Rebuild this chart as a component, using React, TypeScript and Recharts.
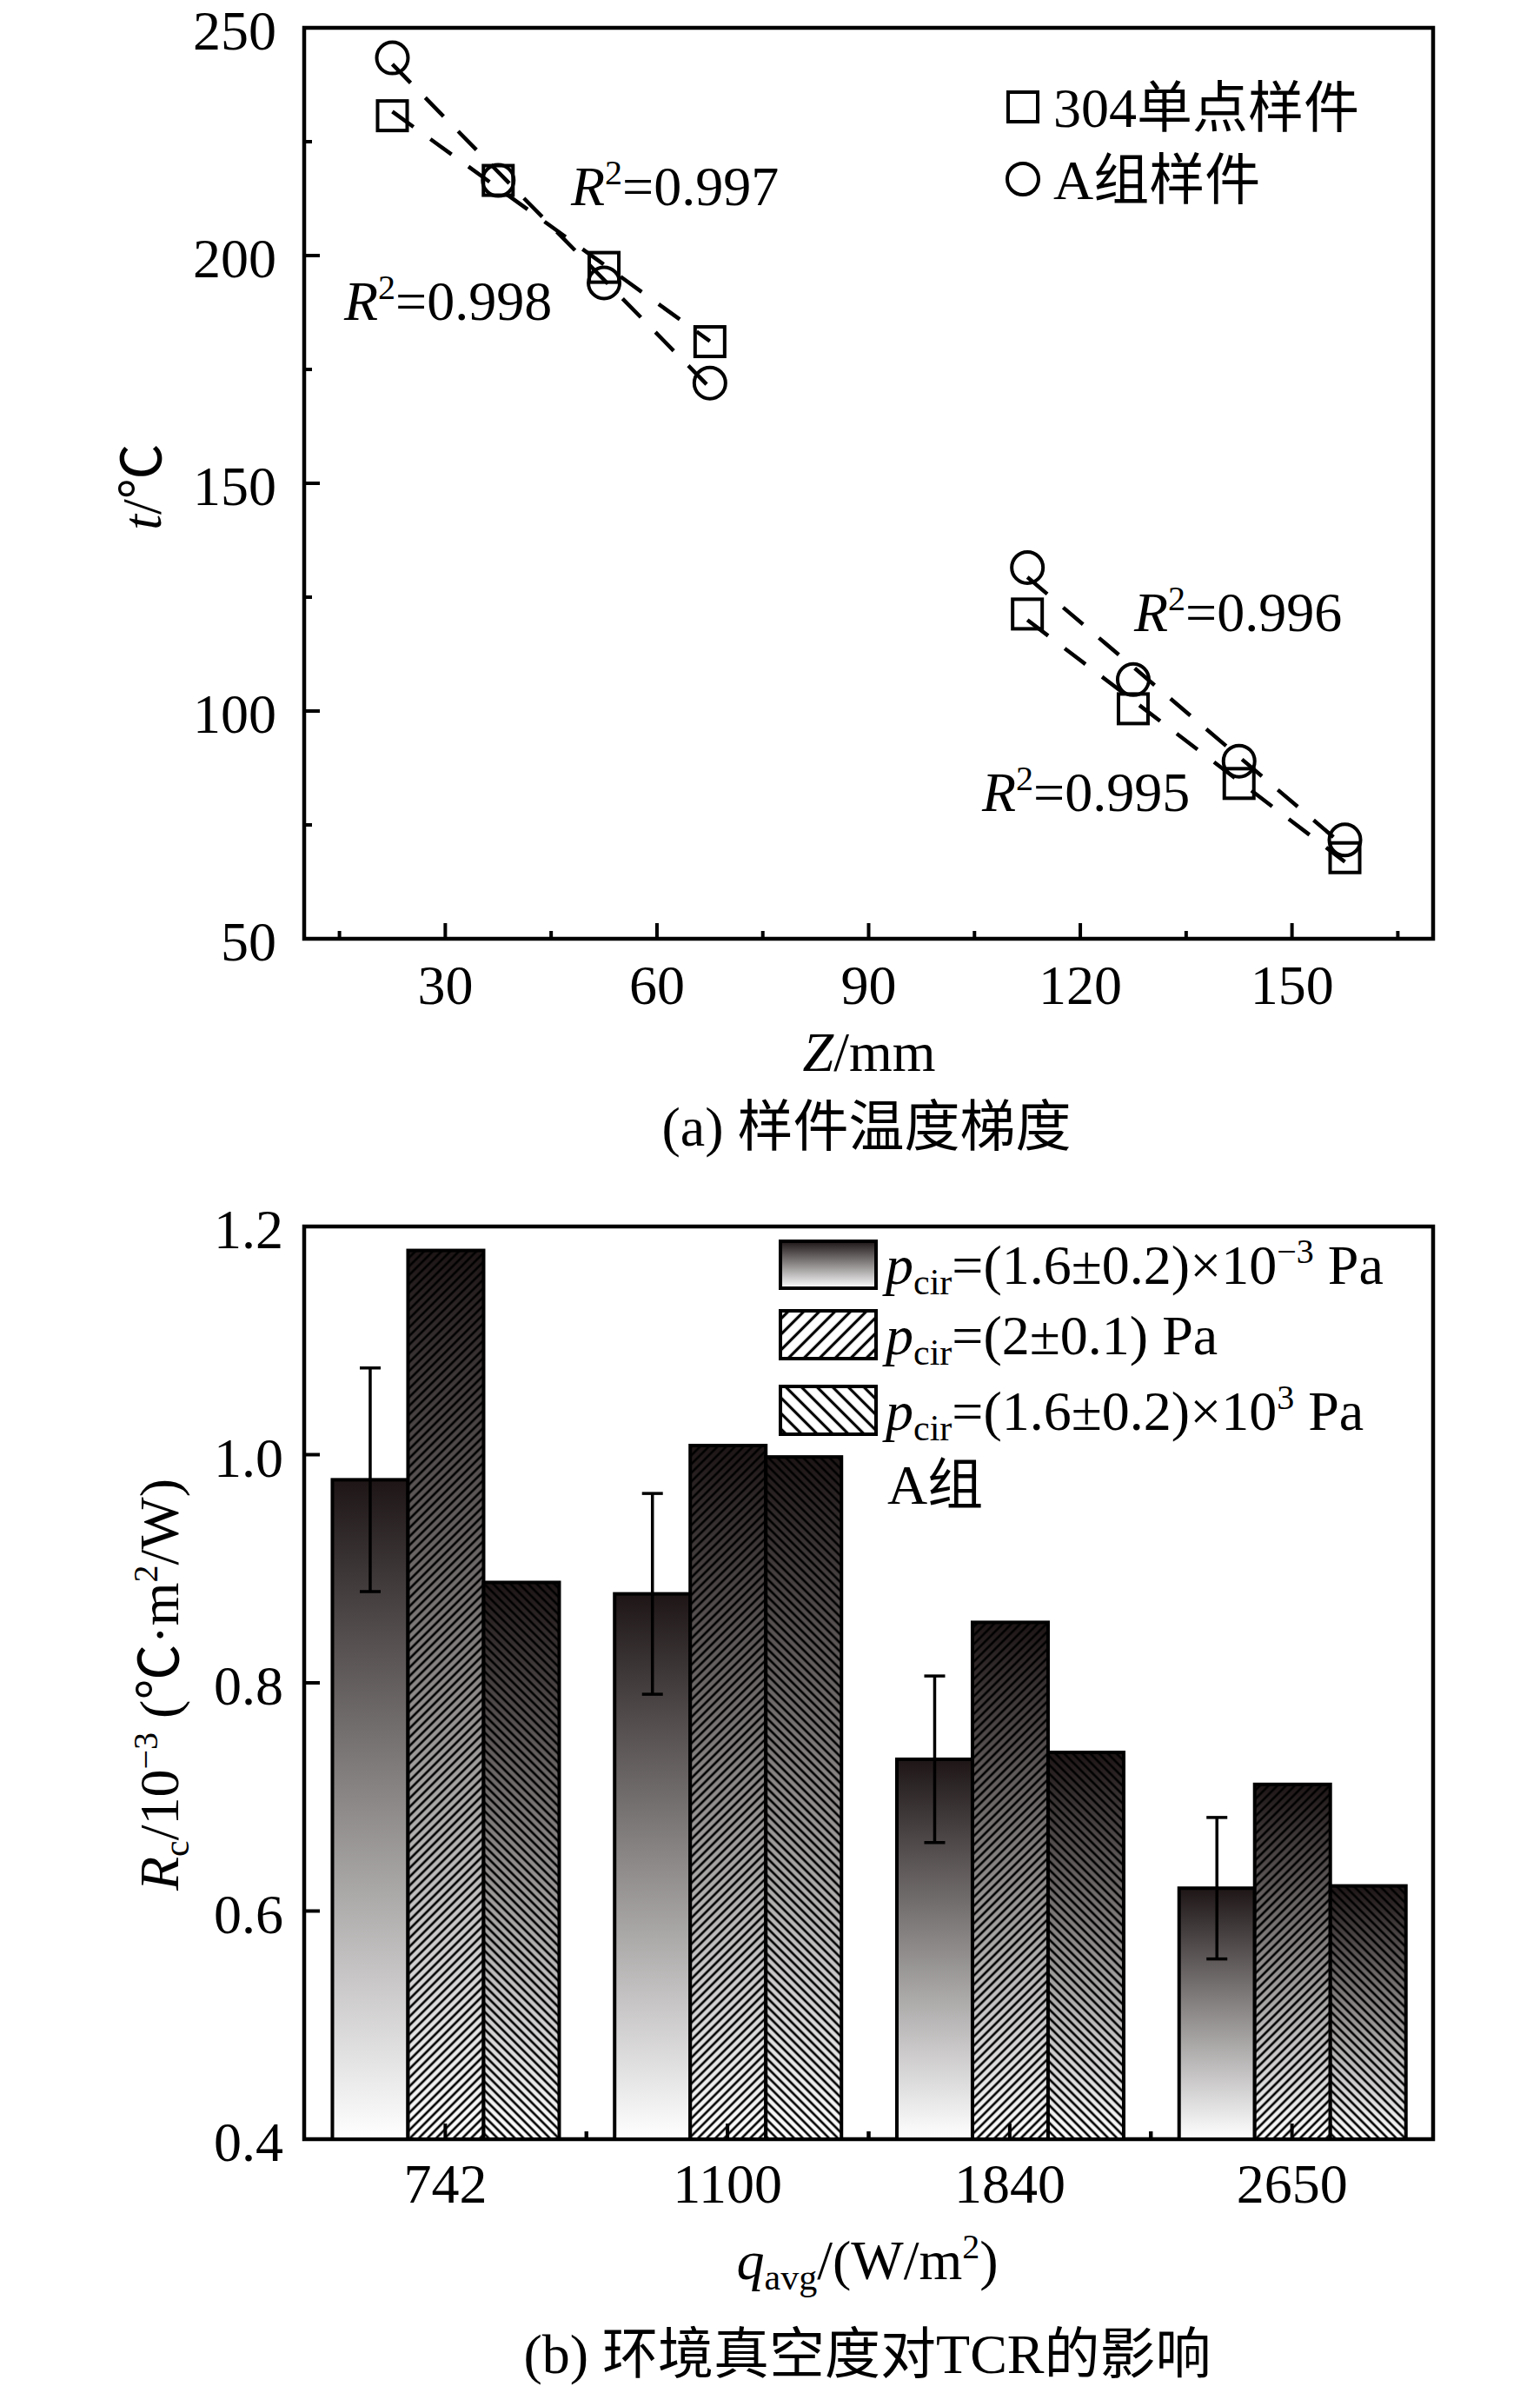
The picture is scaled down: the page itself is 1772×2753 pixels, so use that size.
import React from 'react';
import { ComposedChart, BarChart, Bar, XAxis, YAxis, Scatter, Line, ReferenceArea, ErrorBar } from 'recharts';

const FONT = "'Liberation Serif', 'Times New Roman', 'Noto Sans CJK SC', serif";
const FS = 64;

// ---------- (a) sample temperature gradient ----------
const zPositions = [22.5, 37.5, 52.5, 67.5, 112.5, 127.5, 142.5, 157.5];
const t304 = [230.7, 216.5, 197.4, 181.1, 121.3, 100.5, 84.1, 67.8];
const tGroupA = [243.4, 216.5, 194.0, 172.0, 131.5, 106.9, 89.0, 71.7];
const fitZUpper = [22.5, 67.5];
const fitZLower = [112.5, 157.5];
const fit304Upper = [231.6, 181.2];
const fitAUpper = [242.0, 171.0];
const fit304Lower = [120.0, 66.9];
const fitALower = [129.4, 70.2];
const zTicks = [15, 30, 45, 60, 75, 90, 105, 120, 135, 150, 165];
const zMajor = [30, 60, 90, 120, 150];
const tTicks = [50, 75, 100, 125, 150, 175, 200, 225, 250];
const tMajor = [50, 100, 150, 200, 250];

// ---------- (b) TCR vs vacuum ----------
const qCategories = ['742', '1100', '1840', '2650'];
const rLow = [0.978, 0.878, 0.733, 0.620];
const rLowErr = [0.098, 0.088, 0.073, 0.062];
const rMid = [1.179, 1.008, 0.853, 0.711];
const rHigh = [0.888, 0.998, 0.739, 0.622];
const rTicks = [0.4, 0.6, 0.8, 1.0, 1.2];

const scatter304 = zPositions.map((z, i) => ({ z, t: t304[i] }));
const scatterA = zPositions.map((z, i) => ({ z, t: tGroupA[i] }));
const mk = (zs: number[], ts: number[]) => zs.map((z, i) => ({ z, t: ts[i] }));
const barData = qCategories.map((q, i) => ({ q, low: rLow[i], lowErr: rLowErr[i], mid: rMid[i], high: rHigh[i] }));

function makeXTick(majors: any[], majorLen: number, minorLen: number, offset: number, bandMinor: boolean) {
  return (props: any) => {
    const { x, y, payload } = props;
    const v = payload.value;
    const major = majors.includes(v);
    const half = bandMinor && payload && typeof payload.offset === 'number' ? payload.offset : 0;
    return (
      <g>
        <line x1={x} x2={x} y1={y} y2={y - (major ? majorLen : minorLen)} stroke="#000" strokeWidth={4} />
        {half > 0 && (
          <>
            <line x1={x - half} x2={x - half} y1={y} y2={y - minorLen} stroke="#000" strokeWidth={4} />
            <line x1={x + half} x2={x + half} y1={y} y2={y - minorLen} stroke="#000" strokeWidth={4} />
          </>
        )}
        {major && (
          <text x={x} y={y + offset} textAnchor="middle" fontFamily={FONT} fontSize={FS} fill="#000">{String(v)}</text>
        )}
      </g>
    );
  };
}

function makeYTick(majors: number[], majorLen: number, minorLen: number, offset: number, fmt: (v: number) => string) {
  return (props: any) => {
    const { x, y, payload } = props;
    const v = payload.value;
    const major = majors.some((m) => Math.abs(m - v) < 1e-9);
    return (
      <g>
        <line x1={x} x2={x + (major ? majorLen : minorLen)} y1={y} y2={y} stroke="#000" strokeWidth={4} />
        {major && (
          <text x={x - offset} y={y + 25} textAnchor="end" fontFamily={FONT} fontSize={FS} fill="#000">{fmt(v)}</text>
        )}
      </g>
    );
  };
}

const SquareShape = (p: any) =>
  p.cx == null ? null : <rect x={p.cx - 17} y={p.cy - 17} width={34} height={34} fill="none" stroke="#000" strokeWidth={4} />;
const CircleShape = (p: any) =>
  p.cx == null ? null : <circle cx={p.cx} cy={p.cy} r={18} fill="none" stroke="#000" strokeWidth={4} />;

function makeBarShape(pattern: string | null) {
  return (p: any) => {
    const { x, y, width, height } = p;
    if (height == null || height <= 0) return null;
    return (
      <g>
        <rect x={x} y={y} width={width} height={height} fill="url(#barGrad)" />
        {pattern && <rect x={x} y={y} width={width} height={height} fill={`url(#${pattern})`} />}
        <rect x={x} y={y} width={width} height={height} fill="none" stroke="#000" strokeWidth={4} />
      </g>
    );
  };
}

const dash = '30 24';

function TopChart() {
  return (
    <ComposedChart width={1772} height={1300} margin={{ top: 32, right: 123, bottom: 219, left: 349 }}>
      <XAxis type="number" dataKey="z" domain={[10, 170]} ticks={zTicks} interval={0} allowDataOverflow
        height={1} tickSize={0} tickMargin={0} axisLine={false} tickLine={false}
        tick={makeXTick(zMajor, 18, 9, 75, false)} />
      <YAxis type="number" dataKey="t" domain={[50, 250]} ticks={tTicks} interval={0} allowDataOverflow
        width={1} tickSize={0} tickMargin={0} axisLine={false} tickLine={false}
        tick={makeYTick(tMajor, 18, 9, 32, (v) => String(v))} />
      <Line data={mk(fitZUpper, fit304Upper)} dataKey="t" stroke="#000" strokeWidth={4.5} strokeDasharray={dash} dot={false} activeDot={false} isAnimationActive={false} />
      <Line data={mk(fitZUpper, fitAUpper)} dataKey="t" stroke="#000" strokeWidth={4.5} strokeDasharray={dash} dot={false} activeDot={false} isAnimationActive={false} />
      <Line data={mk(fitZLower, fit304Lower)} dataKey="t" stroke="#000" strokeWidth={4.5} strokeDasharray={dash} dot={false} activeDot={false} isAnimationActive={false} />
      <Line data={mk(fitZLower, fitALower)} dataKey="t" stroke="#000" strokeWidth={4.5} strokeDasharray={dash} dot={false} activeDot={false} isAnimationActive={false} />
      <Scatter data={scatter304} dataKey="t" shape={SquareShape} isAnimationActive={false} />
      <Scatter data={scatterA} dataKey="t" shape={CircleShape} isAnimationActive={false} />
      <ReferenceArea x1={10} x2={170} y1={50} y2={250} fill="none" fillOpacity={0} stroke="#000" strokeWidth={4.5} ifOverflow="visible" />
    </ComposedChart>
  );
}

function BottomChart() {
  return (
    <BarChart width={1772} height={1453} data={barData} margin={{ top: 111, right: 123, bottom: 291, left: 349 }}
      barCategoryGap="10%" barGap={0}>
      <YAxis type="number" domain={[0.4, 1.2]} ticks={rTicks} interval={0} allowDataOverflow
        width={1} tickSize={0} tickMargin={0} axisLine={false} tickLine={false}
        tick={makeYTick(rTicks, 18, 9, 24, (v) => v.toFixed(1))} />
      <Bar dataKey="low" shape={makeBarShape(null)} isAnimationActive={false}>
        <ErrorBar dataKey="lowErr" width={12} stroke="#000" strokeWidth={3.5} direction="y" />
      </Bar>
      <Bar dataKey="mid" shape={makeBarShape('hatchR')} isAnimationActive={false} />
      <Bar dataKey="high" shape={makeBarShape('hatchL')} isAnimationActive={false} />
      <XAxis dataKey="q" height={1} tickSize={0} tickMargin={0} axisLine={false} tickLine={false} interval={0}
        tick={makeXTick(qCategories, 18, 9, 73, true)} />
      <ReferenceArea y1={0.4} y2={1.2} fill="none" fillOpacity={0} stroke="#000" strokeWidth={4.5} ifOverflow="visible" />
    </BarChart>
  );
}

function R2({ x, y, v }: { x: number; y: number; v: string }) {
  return (
    <text x={x} y={y} fontFamily={FONT} fontSize={FS} fill="#000">
      <tspan fontStyle="italic">R</tspan>
      <tspan fontSize={40} dy={-24}>2</tspan>
      <tspan dy={24}>{'=' + v}</tspan>
    </text>
  );
}

function PLabel({ x, y, rest, sup, tail }: { x: number; y: number; rest: string; sup?: string; tail: string }) {
  return (
    <text x={x} y={y} fontFamily={FONT} fontSize={FS} fill="#000" style={{ whiteSpace: 'pre' }}>
      <tspan fontStyle="italic">p</tspan>
      <tspan fontSize={42} dy={12}>cir</tspan>
      <tspan dy={-12}>{rest}</tspan>
      {sup ? <tspan fontSize={40} dy={-24}>{sup}</tspan> : null}
      <tspan dy={sup ? 24 : 0}>{tail}</tspan>
    </text>
  );
}

function Overlay() {
  return (
    <svg width={1772} height={2753} style={{ position: 'absolute', left: 0, top: 0, pointerEvents: 'none' }}>
      {/* (a) legend */}
      <rect x={1160} y={106} width={34} height={34} fill="none" stroke="#000" strokeWidth={4} />
      <text x={1212} y={146} fontFamily={FONT} fontSize={FS} fill="#000">304单点样件</text>
      <circle cx={1177} cy={206} r={18} fill="none" stroke="#000" strokeWidth={4} />
      <text x={1212} y={229} fontFamily={FONT} fontSize={FS} fill="#000">A组样件</text>
      <R2 x={657} y={236} v="0.997" />
      <R2 x={396} y={368} v="0.998" />
      <R2 x={1305} y={726} v="0.996" />
      <R2 x={1130} y={933} v="0.995" />
      <text x={163} y={582} transform="rotate(-90, 163, 560)" textAnchor="middle" fontFamily={FONT} fontSize={FS} fill="#000">
        <tspan fontStyle="italic">t</tspan>/℃
      </text>
      <text x={1000} y={1232} textAnchor="middle" fontFamily={FONT} fontSize={FS} fill="#000">
        <tspan fontStyle="italic">Z</tspan>/mm
      </text>
      <text x={997} y={1318} textAnchor="middle" fontFamily={FONT} fontSize={FS} fill="#000">(a) 样件温度梯度</text>

      {/* (b) legend */}
      <rect x={898} y={1428} width={110} height={54} fill="url(#barGrad)" stroke="#000" strokeWidth={4} />
      <rect x={898} y={1508} width={110} height={55} fill="#fff" stroke="#000" strokeWidth={4} />
      <rect x={898} y={1508} width={110} height={55} fill="url(#legR)" stroke="#000" strokeWidth={4} />
      <rect x={898} y={1595} width={110} height={55} fill="#fff" stroke="#000" strokeWidth={4} />
      <rect x={898} y={1595} width={110} height={55} fill="url(#legL)" stroke="#000" strokeWidth={4} />
      <PLabel x={1019} y={1477} rest="=(1.6±0.2)×10" sup="−3" tail=" Pa" />
      <PLabel x={1019} y={1558} rest="=(2±0.1) Pa" tail="" />
      <PLabel x={1019} y={1645} rest="=(1.6±0.2)×10" sup="3" tail=" Pa" />
      <text x={1021} y={1730} fontFamily={FONT} fontSize={FS} fill="#000">A组</text>

      <text x={183} y={1960} transform="rotate(-90, 183, 1938)" textAnchor="middle" fontFamily={FONT} fontSize={FS} fill="#000" style={{ whiteSpace: 'pre' }}>
        <tspan fontStyle="italic">R</tspan>
        <tspan fontSize={42} dy={12}>c</tspan>
        <tspan dy={-12}>/10</tspan>
        <tspan fontSize={40} dy={-24}>−3</tspan>
        <tspan dy={24}> (℃·m</tspan>
        <tspan fontSize={40} dy={-24}>2</tspan>
        <tspan dy={24}>/W)</tspan>
      </text>
      <text x={998} y={2622} textAnchor="middle" fontFamily={FONT} fontSize={FS} fill="#000">
        <tspan fontStyle="italic">q</tspan>
        <tspan fontSize={42} dy={12}>avg</tspan>
        <tspan dy={-12}>/(W/m</tspan>
        <tspan fontSize={40} dy={-24}>2</tspan>
        <tspan dy={24}>)</tspan>
      </text>
      <text x={998} y={2730} textAnchor="middle" fontFamily={FONT} fontSize={FS} fill="#000">(b) 环境真空度对TCR的影响</text>
    </svg>
  );
}

function Defs() {
  return (
    <svg width={0} height={0} style={{ position: 'absolute', left: 0, top: 0 }}>
      <defs>
        <linearGradient id="barGrad" x1="0" y1="0" x2="0" y2="1">
          <stop offset="0%" stopColor="#1e1616" />
          <stop offset="100%" stopColor="#ffffff" />
        </linearGradient>
        <pattern id="hatchR" patternUnits="userSpaceOnUse" width={7.1} height={7.1} patternTransform="rotate(45)">
          <line x1={3.55} y1={-1} x2={3.55} y2={8.1} stroke="#000" strokeWidth={2.6} />
        </pattern>
        <pattern id="hatchL" patternUnits="userSpaceOnUse" width={7.1} height={7.1} patternTransform="rotate(-45)">
          <line x1={3.55} y1={-1} x2={3.55} y2={8.1} stroke="#000" strokeWidth={2.6} />
        </pattern>
        <pattern id="legR" patternUnits="userSpaceOnUse" width={12.7} height={12.7} patternTransform="rotate(45)">
          <line x1={6.35} y1={-1} x2={6.35} y2={13.7} stroke="#000" strokeWidth={3.2} />
        </pattern>
        <pattern id="legL" patternUnits="userSpaceOnUse" width={12.7} height={12.7} patternTransform="rotate(-45)">
          <line x1={6.35} y1={-1} x2={6.35} y2={13.7} stroke="#000" strokeWidth={3.2} />
        </pattern>
      </defs>
    </svg>
  );
}

export default function App() {
  return (
    <div style={{ position: 'absolute', left: 0, top: 0, width: 1772, height: 2753, background: '#fff', fontFamily: FONT, overflow: 'hidden' }}>
      <Defs />
      <div style={{ position: 'absolute', left: 0, top: 0 }}>
        <TopChart />
      </div>
      <div style={{ position: 'absolute', left: 0, top: 1300 }}>
        <BottomChart />
      </div>
      <Overlay />
    </div>
  );
}
